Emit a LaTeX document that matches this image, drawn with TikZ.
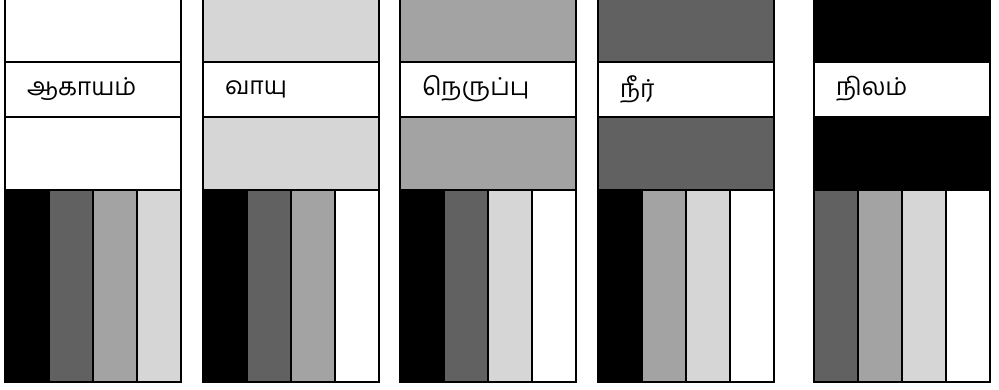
\documentclass[tikz,border=0pt]{standalone}
\usepackage{fontspec}
\newfontfamily\tamil[Script=Tamil]{Hind Madurai}
\definecolor{shA}{gray}{1}
\definecolor{shB}{gray}{0.84}
\definecolor{shC}{gray}{0.64}
\definecolor{shD}{gray}{0.38}
\definecolor{shE}{gray}{0}
\begin{document}
\begin{tikzpicture}[x=0.75pt,y=-0.75pt,line width=1.5pt]
\clip (0,0) rectangle (999,389);
\foreach \x/\lab/\top/\sa/\sb/\sc/\sd [count=\n] in {5/ஆகாயம்/shA/shE/shD/shC/shB,203/வாயு/shB/shE/shD/shC/shA,400/நெருப்பு/shC/shE/shD/shB/shA,598/நீர்/shD/shE/shC/shB/shA,814/நிலம்/shE/shD/shC/shB/shA} {
\fill[\top] (\x,-5) rectangle +(176,195);
\draw[fill=white] (\x,62) rectangle +(176,55);
\node[anchor=west,inner sep=0,font=\tamil\fontsize{18.5}{22}\selectfont] (lab\n) at (\x+21,89) {\lab};
\foreach \k/\s in {0/\sa,1/\sb,2/\sc,3/\sd} {\draw[fill=\s] (\x+44*\k,190) rectangle +(44,192);}
\draw (\x,-5) rectangle (\x+176,382);}
\end{tikzpicture}
\end{document}
